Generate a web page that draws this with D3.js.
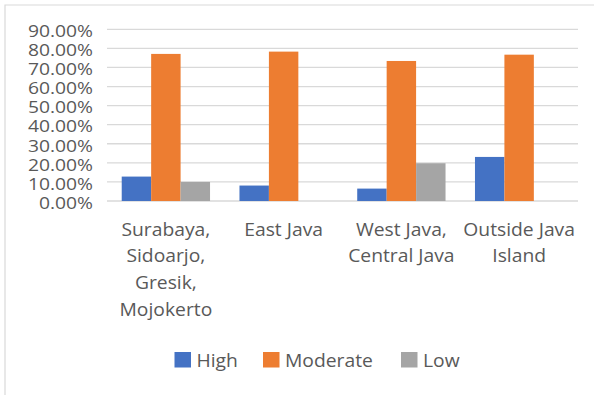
<!DOCTYPE html>
<html>
<head>
<meta charset="utf-8">
<script src="https://cdn.jsdelivr.net/npm/d3@7"></script>
<style>
  html, body { margin: 0; padding: 0; background: #ffffff; }
  svg { display: block; }
  text { font-family: "Open Sans", sans-serif; fill: #595959; }
</style>
</head>
<body>
<svg id="chart" width="594" height="395"></svg>
<script>
// Regions surveyed, one label line per array entry
const categories = [
  ["Surabaya,", "Sidoarjo,", "Gresik,", "Mojokerto"],
  ["East Java"],
  ["West Java,", "Central Java"],
  ["Outside Java", "Island"]
];
const seriesNames = ["High", "Moderate", "Low"];
const seriesColors = ["#4472C4", "#ED7D31", "#A5A5A5"];
const highValues = [0.128, 0.081, 0.065, 0.231];
const moderateValues = [0.771, 0.783, 0.734, 0.767];
const lowValues = [0.100, 0, 0.198, 0];
const yTicks = [0, 0.1, 0.2, 0.3, 0.4, 0.5, 0.6, 0.7, 0.8, 0.9];

const seriesValues = [highValues, moderateValues, lowValues];
const svg = d3.select("#chart");

const plot = { left: 107, right: 578, top: 29.3, bottom: 201 };
const fontSize = 17.3;
const stretch = 1.115;       // text is drawn slightly wide
const tickFontSize = 16.5;
const tickStretch = 1.169;

// Outer frame (top and left edges only)
svg.append("path")
  .attr("d", "M5,395 V5 H594")
  .attr("fill", "none")
  .attr("stroke", "#d9d9d9")
  .attr("stroke-width", 1.2);

const x = d3.scaleBand()
  .domain(d3.range(categories.length))
  .range([plot.left, plot.right])
  .padding(0);

const xInner = d3.scaleBand()
  .domain(d3.range(seriesNames.length))
  .range([x.bandwidth() * 0.125, x.bandwidth() * 0.875])
  .padding(0);

const y = d3.scaleLinear()
  .domain([0, 0.9])
  .range([plot.bottom, plot.top]);

// Horizontal gridlines
svg.append("g")
  .selectAll("line")
  .data(yTicks)
  .join("line")
  .attr("x1", plot.left)
  .attr("x2", plot.right)
  .attr("y1", d => y(d))
  .attr("y2", d => y(d))
  .attr("stroke", "#d9d9d9")
  .attr("stroke-width", 1.3);

// Y-axis tick labels
const fmt = d3.format(".2%");
svg.append("g")
  .selectAll("text")
  .data(yTicks)
  .join("text")
  .attr("transform", d => `translate(93,${y(d) + 7.8}) scale(${tickStretch},1)`)
  .attr("text-anchor", "end")
  .attr("font-size", tickFontSize)
  .text(d => fmt(d));

// Bars
const groups = svg.append("g")
  .selectAll("g")
  .data(categories.map((c, i) => i))
  .join("g")
  .attr("transform", i => `translate(${x(i)},0)`);

groups.selectAll("rect")
  .data(i => seriesValues.map((vals, s) => ({ s, v: vals[i] })))
  .join("rect")
  .attr("x", d => xInner(d.s))
  .attr("width", xInner.bandwidth())
  .attr("y", d => y(d.v))
  .attr("height", d => y(0) - y(d.v))
  .attr("fill", d => seriesColors[d.s]);

// Category labels (multi-line, centred under each group)
const lineGap = 26.7;
const catLabels = svg.append("g")
  .selectAll("g")
  .data(categories)
  .join("g")
  .attr("transform", (d, i) => `translate(${x(i) + x.bandwidth() / 2},235.5)`);

catLabels.selectAll("text")
  .data(d => d)
  .join("text")
  .attr("transform", (d, k) => `translate(0,${k * lineGap}) scale(${stretch},1)`)
  .attr("text-anchor", "middle")
  .attr("font-size", fontSize)
  .text(d => d);

// Legend
const legendX = [174.5, 263, 401];
const legend = svg.append("g")
  .selectAll("g")
  .data(seriesNames)
  .join("g")
  .attr("transform", (d, i) => `translate(${legendX[i]},0)`);

legend.append("rect")
  .attr("x", 0)
  .attr("y", 352)
  .attr("width", 16.5)
  .attr("height", 15.5)
  .attr("fill", (d, i) => seriesColors[i]);

legend.append("text")
  .attr("transform", `translate(22,367.3) scale(${stretch},1)`)
  .attr("font-size", fontSize)
  .text(d => d);
</script>
</body>
</html>
